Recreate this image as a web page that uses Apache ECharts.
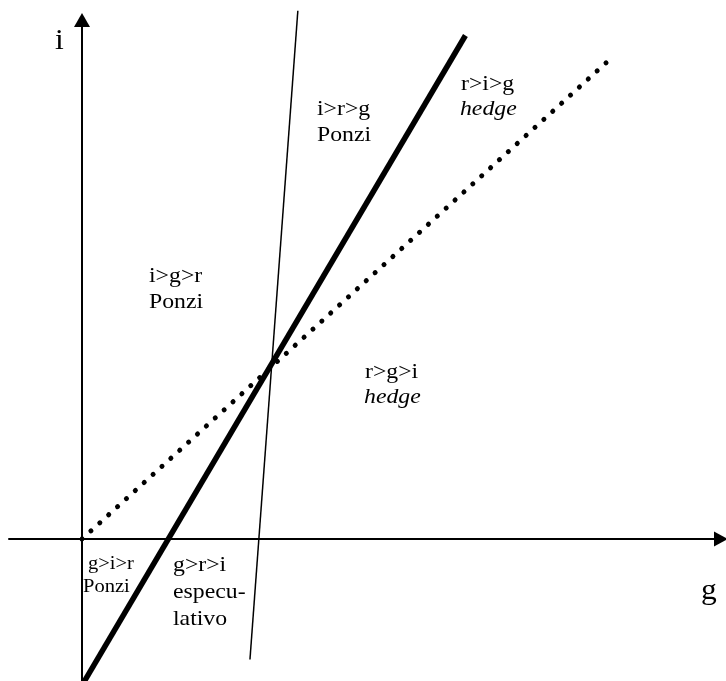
<!DOCTYPE html>
<html><head><meta charset="utf-8">
<script src="https://cdn.jsdelivr.net/npm/echarts@6/dist/echarts.min.js"></script>
<style>html,body{margin:0;padding:0;background:#fff}#c{width:726px;height:681px}</style>
</head><body><div id="c"></div>
<script>
// ---- data (abstract units: g horizontal, i vertical; axes cross at 0,0) ----
const thickLineG  = [0.03, 10.09];
const thickLineI  = [-3.8, 13.25];
const dottedLineG = [0, 13.79];
const dottedLineI = [0, 12.53];
const thinLineG   = [4.42, 5.68];
const thinLineI   = [-3.17, 13.90];

const labelText = ['i>g>r','Ponzi','i>r>g','Ponzi','r>i>g','hedge','r>g>i','hedge','g>i>r','Ponzi','g>r>i','especu-','lativo'];
const labelG    = [1.763, 1.763, 6.184, 6.184, 9.974, 9.947, 7.447, 7.421, 0.158, 0.026, 2.395, 2.395, 2.395];
const labelI    = [6.737, 6.053, 11.132, 10.447, 11.789, 11.132, 4.211, 3.553, -0.816, -1.421, -0.868, -1.579, -2.289];
const labelKind = ['n','n','n','n','n','it','n','it','s','s','n','n','n'];

const axisNameText = ['i', 'g'];
const axisNameG    = [-0.711, 16.289];
const axisNameI    = [12.868, -1.605];

// ---- layout ----
const W = 726, H = 681;
const gridL = 9, gridR = 5, gridT = 20, gridB = 0;
const originX = 82, originY = 539, pxPerUnit = 38;
const xMin = -(originX - gridL) / pxPerUnit;
const xMax = (W - gridR - originX) / pxPerUnit;
const yMax = (originY - gridT) / pxPerUnit;
const yMin = -(H - gridB - originY) / pxPerUnit;

const FAM = '"Liberation Serif","Times New Roman",serif';
const kinds = {
  n:  {font: '22px ' + FAM, size: 22, sx: 1.08},
  it: {font: 'italic 22px ' + FAM, size: 22, sx: 1.08},
  s:  {font: '19px ' + FAM, size: 19, sx: 1.08},
  ax: {font: '30px ' + FAM, size: 30, sx: 1.05}
};

const pairs = (G, I) => G.map((g, k) => [g, I[k]]);

function textSeries(texts, G, I, kindOf) {
  return {
    type: 'custom',
    coordinateSystem: 'cartesian2d',
    clip: false,
    silent: true,
    encode: {x: 0, y: 1},
    data: pairs(G, I),
    renderItem: function (params, api) {
      const p = api.coord([api.value(0), api.value(1)]);
      const st = kinds[kindOf(params.dataIndex)];
      return {
        type: 'text',
        x: p[0],
        y: p[1] - 0.305 * st.size,
        scaleX: st.sx,
        style: {
          text: texts[params.dataIndex],
          font: st.font,
          fill: '#000',
          align: 'left',
          verticalAlign: 'middle'
        }
      };
    }
  };
}

const chart = echarts.init(document.getElementById('c'), null, {renderer: 'canvas'});
chart.setOption({
  animation: false,
  backgroundColor: '#fff',
  grid: {left: gridL, right: gridR, top: gridT, bottom: gridB, containLabel: false},
  xAxis: {
    type: 'value', min: xMin, max: xMax,
    axisLine: {onZero: true, symbol: ['none', 'triangle'], symbolSize: [15, 14],
               lineStyle: {color: '#000', width: 2}},
    axisTick: {show: false}, axisLabel: {show: false}, splitLine: {show: false}
  },
  yAxis: {
    type: 'value', min: yMin, max: yMax,
    axisLine: {onZero: true, symbol: ['none', 'triangle'], symbolSize: [16, 14],
               lineStyle: {color: '#000', width: 2}},
    axisTick: {show: false}, axisLabel: {show: false}, splitLine: {show: false}
  },
  series: [
    {type: 'line', data: pairs(thinLineG, thinLineI), symbol: 'none', clip: false, silent: true,
     lineStyle: {color: '#000', width: 1.5}},
    {type: 'line', data: pairs(thickLineG, thickLineI), symbol: 'none', clip: false, silent: true,
     lineStyle: {color: '#000', width: 5.5, cap: 'butt'}},
    {type: 'line', data: pairs(dottedLineG, dottedLineI), symbol: 'none', clip: false, silent: true,
     lineStyle: {color: '#000', width: 5, cap: 'round', type: [0.1, 11.9]}},
    textSeries(labelText, labelG, labelI, i => labelKind[i]),
    textSeries(axisNameText, axisNameG, axisNameI, () => 'ax')
  ]
});
</script>
</body></html>
